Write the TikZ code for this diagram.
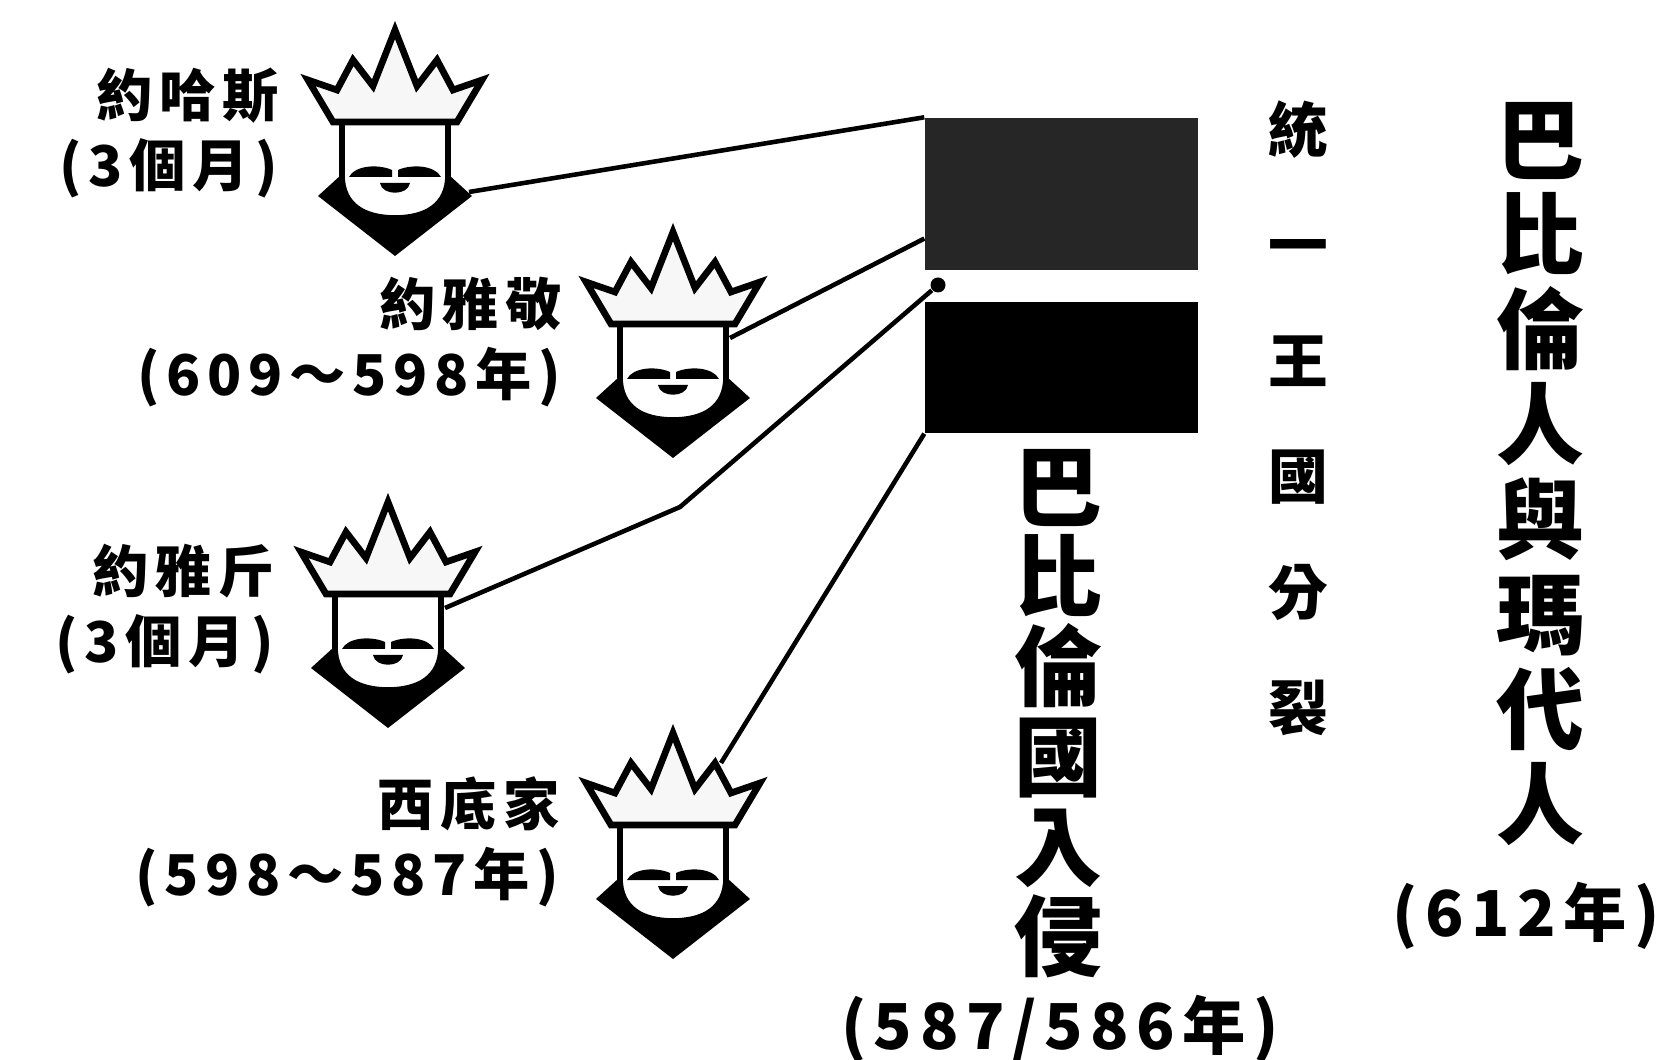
\documentclass[tikz,border=0pt]{standalone}
\usepackage{fontspec}
\newfontfamily\hei{Noto Sans CJK TC}
\newfontfamily\heiwide{Noto Sans CJK TC}[LetterSpace=12]
\usetikzlibrary{calc}

\begin{document}
\begin{tikzpicture}[
    king/.pic={
        % cloak
        \fill (-0.54,-1.45) -- (-0.77,-1.66) -- (0,-2.26) -- (0.77,-1.66) -- (0.54,-1.45) -- cycle;
        % face
        \filldraw[fill=white, line width=1.6pt] (-0.53,-0.9) -- (-0.53,-1.45)
            .. controls (-0.53,-1.76) and (-0.3,-1.88) .. (0,-1.88)
            .. controls (0.3,-1.88) and (0.53,-1.76) .. (0.53,-1.45) -- (0.53,-0.9) -- cycle;
        % crown
        \filldraw[fill=black!3, line width=1.9pt, line join=miter] (-0.62,-0.92) -- (-0.87,-0.5) -- (-0.58,-0.6)
            -- (-0.42,-0.3) -- (-0.22,-0.56) -- (0,0) -- (0.22,-0.56) -- (0.42,-0.3)
            -- (0.58,-0.6) -- (0.87,-0.5) -- (0.62,-0.92) -- cycle;
        % moustache and mouth
        \fill (-0.46,-1.47) .. controls (-0.4,-1.35) and (-0.16,-1.34) .. (-0.03,-1.4)
            -- (-0.03,-1.47) -- cycle;
        \fill (0.46,-1.47) .. controls (0.4,-1.35) and (0.16,-1.34) .. (0.03,-1.4)
            -- (0.03,-1.47) -- cycle;
        \fill (-0.15,-1.53) -- (0.15,-1.53) .. controls (0.13,-1.66) and (-0.13,-1.66) .. cycle;
        \coordinate (-shoulder) at (0.74,-1.62);
        \coordinate (-cheek) at (0.57,-1.06);
        \coordinate (-crown) at (0.48,-0.3);
    },
    kinglabel/.style={font=\heiwide\bfseries\fontsize{16}{20}\selectfont, align=right, anchor=east, inner sep=0pt},
    block/.style={minimum width=2.73cm, inner sep=0pt},
    column/.style={align=center, inner sep=0pt},
    date/.style={font=\heiwide\bfseries\fontsize{18}{20}\selectfont, inner sep=0pt},
    dot/.style={circle, fill, inner sep=0pt, minimum size=0.15cm},
    link/.style={line width=1.3pt}
]
    \useasboundingbox (0,0) rectangle (16.71,10.59);

    % the four kings
    \pic (joahaz) at (3.95,10.29) {king};
    \pic (jehoiakim) at (6.73,8.27) {king};
    \pic (jehoiachin) at (3.88,5.57) {king};
    \pic (zedekiah) at (6.73,3.26) {king};

    \node[kinglabel] (joahazname) at (2.79,9.26) {約哈斯\\(3個月)};
    \node[kinglabel] (jehoiakimname) at (5.62,7.17) {約雅敬\\(609～598年)};
    \node[kinglabel] (jehoiachinname) at (2.75,4.5) {約雅斤\\(3個月)};
    \node[kinglabel] (zedekiahname) at (5.6,2.17) {西底家\\(598～587年)};

    % kingdom bars
    \node[block, fill=black!85, minimum height=1.52cm] (united) at (10.615,8.65) {};
    \node[block, fill=black, minimum height=1.31cm] (divided) at (10.615,6.915) {};
    \node[dot] (gap) at (9.38,7.74) {};
    \coordinate (bend) at (6.8,5.52);

    \draw[link] (joahaz-shoulder) -- (united.north west);
    \draw[link] (jehoiakim-cheek) -- (united.198);
    \draw[link] (jehoiachin-cheek) -- (bend) -- (gap);
    \draw[link] (zedekiah-crown) -- (divided.south west);

    % vertical captions
    \node[column, font=\hei\bfseries\fontsize{25}{25.6}\selectfont] (invasion) at (10.58,3.45) {巴\\比\\倫\\國\\入\\侵};
    \node[date] (invasiondate) at (10.6,0.3) {(587/586年)};
    \node[column, font=\hei\bfseries\fontsize{17}{32.9}\selectfont] (split) at (12.98,6.41) {統\\一\\王\\國\\分\\裂};
    \node[column, font=\hei\bfseries\fontsize{25}{27}\selectfont] (medes) at (15.4,5.85) {巴\\比\\倫\\人\\與\\瑪\\代\\人};
    \node[date] (medesdate) at (15.26,1.43) {(612年)};
\end{tikzpicture}
\end{document}
